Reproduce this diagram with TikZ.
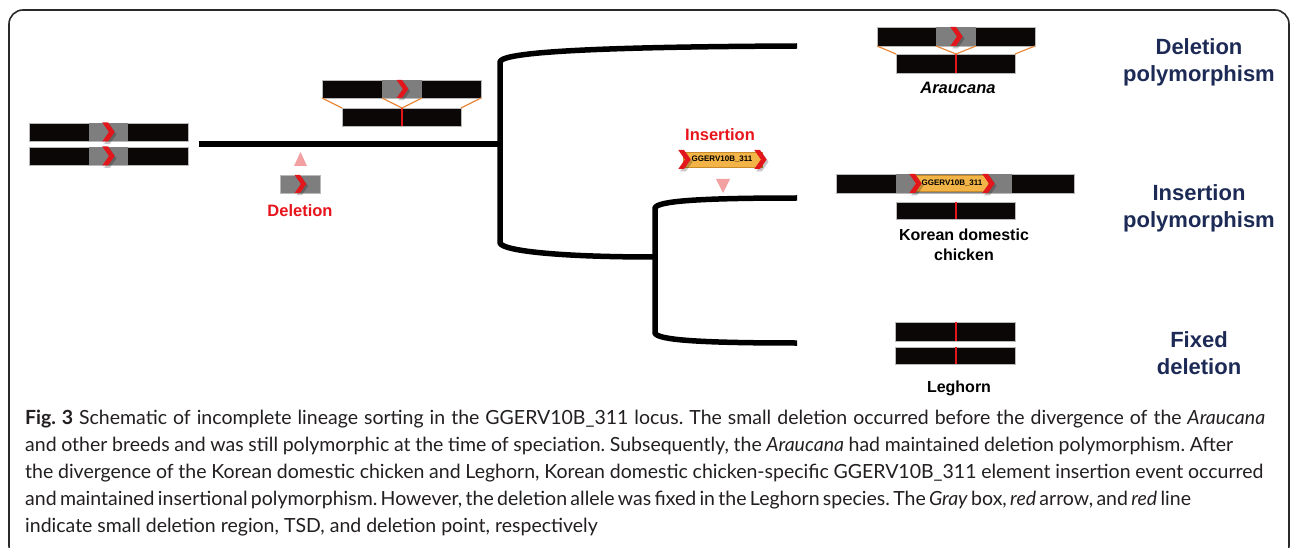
\documentclass[tikz,border=0pt]{standalone}
\usepackage{fontspec}
\setmainfont{Liberation Sans}
\newfontfamily\capfont{Lato}
\definecolor{barblack}{HTML}{0C0707}
\definecolor{gregion}{HTML}{7E7E7E}
\definecolor{chevred}{HTML}{E3161C}
\definecolor{tsdorange}{HTML}{E8883A}
\definecolor{trpink}{HTML}{F2A0A2}
\definecolor{elemorange}{HTML}{F2B446}
\definecolor{elemedge}{HTML}{C98A2A}
\definecolor{labred}{HTML}{E8141B}
\definecolor{navy}{HTML}{1C2A55}
\definecolor{captext}{HTML}{231F20}
\definecolor{framec}{HTML}{2A2A2A}
\newcommand\mychev[3]{%
  \begin{scope}[shift={(#1,#2)},scale=#3]
    \fill[black,opacity=0.22,shift={(0.1,0.12)}] (-0.3,-0.5) -- (0,-0.5) -- (0.35,0) -- (0,0.5) -- (-0.3,0.5) -- (0.05,0) -- cycle;
    \fill[chevred] (-0.3,-0.5) -- (0,-0.5) -- (0.35,0) -- (0,0.5) -- (-0.3,0.5) -- (0.05,0) -- cycle;
  \end{scope}}
\newcommand\chrbar[4]{%
  \fill[barblack] (#1,#2) rectangle (#3,#4);
  \draw[gray!55,line width=0.4pt] (#1,#2) rectangle (#3,#4);}
\newcommand\gregbox[4]{\fill[gregion] (#1,#2) rectangle (#3,#4);}
\newcommand\delpt[3]{\draw[chevred,line width=2pt] (#1,#2) -- (#1,#3);}
\begin{document}
\frenchspacing
\begin{tikzpicture}[x=1pt,y=-1pt,
  branch/.style={line width=5.5pt,black,line join=round},
  tsd/.style={tsdorange,line width=1.2pt},
  redlab/.style={text=labred,font=\fontsize{16.5}{18}\selectfont\bfseries,inner sep=0pt},
  species/.style={text=black,font=\fontsize{16}{20}\selectfont\bfseries,align=center,inner sep=0pt},
  status/.style={text=navy,font=\fontsize{22}{27}\selectfont\bfseries,align=center,inner sep=0pt},
  elemtext/.style={font=\fontsize{8}{9}\selectfont\bfseries,inner sep=0pt,text=black},
  capline/.style={anchor=base west,inner sep=0pt,text=captext,font=\capfont\fontsize{19.5}{27}\selectfont}]
\useasboundingbox (0,0) rectangle (1293,548);
\clip (0,0) rectangle (1293,548);
\fill[white] (0,0) rectangle (1293,548);
\draw[framec,line width=1.6pt,rounded corners=14pt] (9,10) rectangle (1289,560);

% ---- tree ----
\coordinate (root) at (199,144);
\coordinate (n1) at (500,144);
\coordinate (n1t) at (500,62);
\coordinate (n1b) at (500,243);
\coordinate (araE) at (797,46);
\coordinate (n2) at (655,257);
\coordinate (n2t) at (655,208);
\coordinate (n2b) at (655,333);
\coordinate (korE) at (797,198);
\coordinate (legE) at (797,343);
\draw[branch] (root) -- (n1);
\draw[branch] (araE) .. controls (560,47) and (501,54) .. (n1t) -- (n1b) .. controls (503,251) and (560,257) .. (n2);
\draw[branch] (korE) .. controls (700,198) and (657,201) .. (n2t) -- (n2b) .. controls (657,340) and (700,343) .. (legE);

% ---- ancestral pair ----
\chrbar{29}{123}{188}{141}
\gregbox{89}{123}{128}{141}
\mychev{108}{132}{19}
\chrbar{29}{147}{188}{165}
\gregbox{89}{147}{128}{165}
\mychev{108}{156}{19}

% ---- deletion event ----
\fill[trpink] (294,166) -- (307,166) -- (300.5,152) -- cycle;
\gregbox{280}{175}{320}{193}
\draw[gray!55,line width=0.4pt] (280,175) rectangle (320,193);
\mychev{300}{184}{18}
\node[redlab] (del) at (300,211) {Deletion};

% ---- polymorphic node ----
\chrbar{322}{80}{481}{98}
\gregbox{382}{80}{422}{98}
\mychev{402}{89}{18}
\chrbar{342}{108}{461}{126}
\delpt{402}{108}{126}
\draw[tsd] (322,98) -- (342,108);
\draw[tsd] (481,98) -- (461,108);
\draw[tsd] (382,98) -- (402,108);
\draw[tsd] (422,98) -- (402,108);

% ---- Araucana ----
\chrbar{877}{27}{1035}{46}
\gregbox{936}{27}{976}{46}
\mychev{956}{36.5}{19}
\chrbar{896}{54}{1015}{73}
\delpt{956}{54}{73}
\draw[tsd] (877,46) -- (896,54);
\draw[tsd] (1035,46) -- (1015,54);
\draw[tsd] (936,46) -- (956,54);
\draw[tsd] (976,46) -- (956,54);
\node[species,font=\fontsize{16.5}{20}\selectfont\bfseries\itshape] (ara) at (958,88) {Araucana};

% ---- insertion event ----
\node[redlab] (ins) at (720,135) {Insertion};
\fill[elemorange] (683,152) rectangle (762,167);
\draw[elemedge,line width=0.5pt] (683,152) rectangle (762,167);
\mychev{684}{159.5}{19}
\mychev{760}{159.5}{19}
\node[elemtext] (el1) at (722,159.5) {GGERV10B\_311};
\fill[trpink] (716,179) -- (730,179) -- (723,193) -- cycle;

% ---- Korean domestic chicken ----
\chrbar{836}{174}{1074}{193}
\gregbox{896}{174}{1012}{193}
\fill[elemorange] (915,175.5) rectangle (988,191.5);
\draw[elemedge,line width=0.5pt] (915,175.5) rectangle (988,191.5);
\mychev{915}{183.5}{19}
\mychev{988}{183.5}{19}
\node[elemtext] (el2) at (952,183.5) {GGERV10B\_311};
\chrbar{896}{202}{1015}{219}
\delpt{956}{202}{219}
\node[species] (kor) at (964,245) {Korean domestic\\chicken};

% ---- Leghorn ----
\chrbar{895}{322}{1015}{341}
\delpt{956}{322}{341}
\chrbar{895}{347}{1015}{364}
\delpt{956}{347}{364}
\node[species] (leg) at (959,388) {Leghorn};

% ---- status labels ----
\node[status] (s1) at (1199,62) {Deletion\\polymorphism};
\node[status] (s2) at (1199,208) {Insertion\\polymorphism};
\node[status] (s3) at (1199,353) {Fixed\\deletion};

% ---- caption ----
\node[capline] (c1) at (25,424) {\makebox[1240pt][s]{\textbf{Fig. 3} Schematic of incomplete lineage sorting in the GGERV10B\_311 locus. The small deletion occurred before the divergence of the \textit{Araucana}}};
\node[capline] (c2) at (25,451) {\makebox[1208pt][s]{and other breeds and was still polymorphic at the time of speciation. Subsequently, the \textit{Araucana} had maintained deletion polymorphism. After}};
\node[capline] (c3) at (25,478) {\makebox[1238pt][s]{the divergence of the Korean domestic chicken and Leghorn, Korean domestic chicken-specific GGERV10B\_311 element insertion event occurred}};
\node[capline] (c4) at (25,505) {\makebox[1127pt][s]{and maintained insertional polymorphism. However, the deletion allele was fixed in the Leghorn species. The \textit{Gray} box, \textit{red} arrow, and \textit{red} line}};
\node[capline] (c5) at (25,532) {indicate small deletion region, TSD, and deletion point, respectively};
\end{tikzpicture}
\end{document}
